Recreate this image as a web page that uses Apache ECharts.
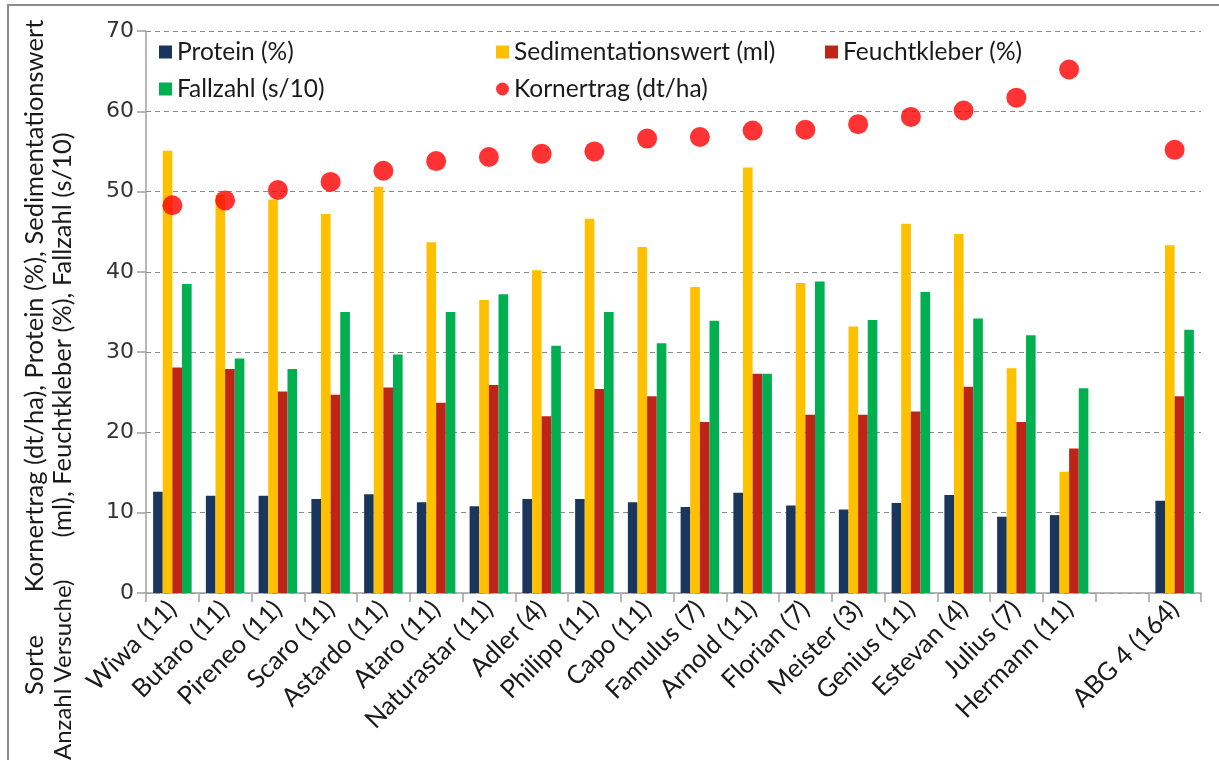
<!DOCTYPE html>
<html>
<head>
<meta charset="utf-8">
<script src="https://cdn.jsdelivr.net/npm/echarts@6/dist/echarts.min.js"></script>
<style>
html,body{margin:0;padding:0;background:#fff;}
#chart{width:1219px;height:760px;}
</style>
</head>
<body>
<div id="chart"></div>
<script>
const categories = ['Wiwa (11)','Butaro (11)','Pireneo (11)','Scaro (11)','Astardo (11)','Ataro (11)','Naturastar (11)','Adler (4)','Philipp (11)','Capo (11)','Famulus (7)','Arnold (11)','Florian (7)','Meister (3)','Genius (11)','Estevan (4)','Julius (7)','Hermann (11)','','ABG 4 (164)'];
const protein   = [12.6,12.1,12.1,11.7,12.3,11.3,10.8,11.7,11.7,11.3,10.7,12.5,10.9,10.4,11.2,12.2,9.5,9.7,null,11.5];
const sediment  = [55.1,49.6,49.0,47.2,50.6,43.7,36.5,40.2,46.6,43.1,38.1,53.0,38.6,33.2,46.0,44.7,28.0,15.1,null,43.3];
const feucht    = [28.1,27.9,25.1,24.7,25.6,23.7,25.9,22.0,25.4,24.5,21.3,27.3,22.2,22.2,22.6,25.7,21.3,18.0,null,24.5];
const fallzahl  = [38.5,29.2,27.9,35.0,29.7,35.0,37.2,30.8,35.0,31.1,33.9,27.3,38.8,34.0,37.5,34.2,32.1,25.5,null,32.8];
const ertrag    = [48.3,48.9,50.2,51.2,52.6,53.8,54.3,54.7,55.0,56.6,56.8,57.6,57.7,58.4,59.3,60.1,61.7,65.2,null,55.2];
const yTicks    = [0,10,20,30,40,50,60,70];
const seriesNames = ['Protein (%)','Sedimentationswert (ml)','Feuchtkleber (%)','Fallzahl (s/10)','Kornertrag (dt/ha)'];
const yTitle1 = 'Kornertrag (dt/ha), Protein (%), Sedimentationswert';
const yTitle2 = '(ml), Feuchtkleber (%), Fallzahl (s/10)';
const xTitle1 = 'Sorte';
const xTitle2 = '(Anzahl Versuche)';

const FONT = 'Lato';
const chart = echarts.init(document.getElementById('chart'));
const legendText = {fontFamily: FONT, fontSize: 24.5, color: '#1a1a1a', lineHeight: 26};
const legendBase = {orient: 'vertical', top: 34, itemGap: 11, itemWidth: 13, itemHeight: 13, textStyle: legendText, selectedMode: false};

const barSeries = (name, data, color) => ({
  name: name, type: 'bar', data: data, barGap: '0%', barCategoryGap: '27%',
  itemStyle: {color: color}, emphasis: {disabled: true}, z: 2
});

chart.setOption({
  animation: false,
  grid: {left: 146, top: 31, width: 1055, height: 562, containLabel: false},
  legend: [
    Object.assign({}, legendBase, {left: 154, data: [{name: seriesNames[0], icon: 'rect'}, {name: seriesNames[3], icon: 'rect'}]}),
    Object.assign({}, legendBase, {left: 491, data: [{name: seriesNames[1], icon: 'rect'}, {name: seriesNames[4], icon: 'circle'}]}),
    Object.assign({}, legendBase, {left: 820, data: [{name: seriesNames[2], icon: 'rect'}]})
  ],
  xAxis: {
    type: 'category', data: categories,
    axisLine: {lineStyle: {color: '#a0a0a0', width: 1.5}},
    axisTick: {show: true, length: 9, alignWithLabel: false, lineStyle: {color: '#a0a0a0', width: 1.5}},
    axisLabel: {rotate: 45, interval: 0, margin: 12, fontFamily: FONT, fontSize: 25.5, color: '#1a1a1a'}
  },
  yAxis: {
    type: 'value', min: 0, max: 70, interval: 10,
    axisLine: {show: true, lineStyle: {color: '#a0a0a0', width: 1.5}},
    axisTick: {show: true, length: 9, lineStyle: {color: '#a0a0a0', width: 1.5}},
    axisLabel: {margin: 12, fontFamily: 'DejaVu Sans', fontSize: 22, color: '#333',
      formatter: v => (yTicks.indexOf(v) >= 0 ? String(v) : '')},
    splitLine: {show: true, lineStyle: {color: '#8a8a8a', type: [5, 4], width: 1.2}}
  },
  series: [
    barSeries(seriesNames[0], protein, '#1b365d'),
    barSeries(seriesNames[1], sediment, '#ffc000'),
    barSeries(seriesNames[2], feucht, '#bf2418'),
    barSeries(seriesNames[3], fallzahl, '#00b050'),
    {name: seriesNames[4], type: 'scatter', data: ertrag, symbol: 'circle', symbolSize: 20,
     itemStyle: {color: '#ff0000'}, emphasis: {disabled: true}, z: 5}
  ],
  graphic: [
    {type: 'rect', shape: {x: 8, y: 5, width: 1240, height: 800}, style: {fill: 'none', stroke: '#8c8c8c', lineWidth: 2}, silent: true},
    {type: 'text', x: 35, y: 306, rotation: Math.PI / 2, style: {text: yTitle1, fontFamily: FONT, fontSize: 25.5, fill: '#1a1a1a', align: 'center', verticalAlign: 'middle'}},
    {type: 'text', x: 63, y: 335, rotation: Math.PI / 2, style: {text: yTitle2, fontFamily: FONT, fontSize: 25.5, fill: '#1a1a1a', align: 'center', verticalAlign: 'middle'}},
    {type: 'text', x: 35, y: 665, rotation: Math.PI / 2, style: {text: xTitle1, fontFamily: FONT, fontSize: 25.5, fill: '#1a1a1a', align: 'center', verticalAlign: 'middle'}},
    {type: 'text', x: 63, y: 673, rotation: Math.PI / 2, style: {text: xTitle2, fontFamily: FONT, fontSize: 24, fill: '#1a1a1a', align: 'center', verticalAlign: 'middle'}}
  ]
});
</script>
</body>
</html>
